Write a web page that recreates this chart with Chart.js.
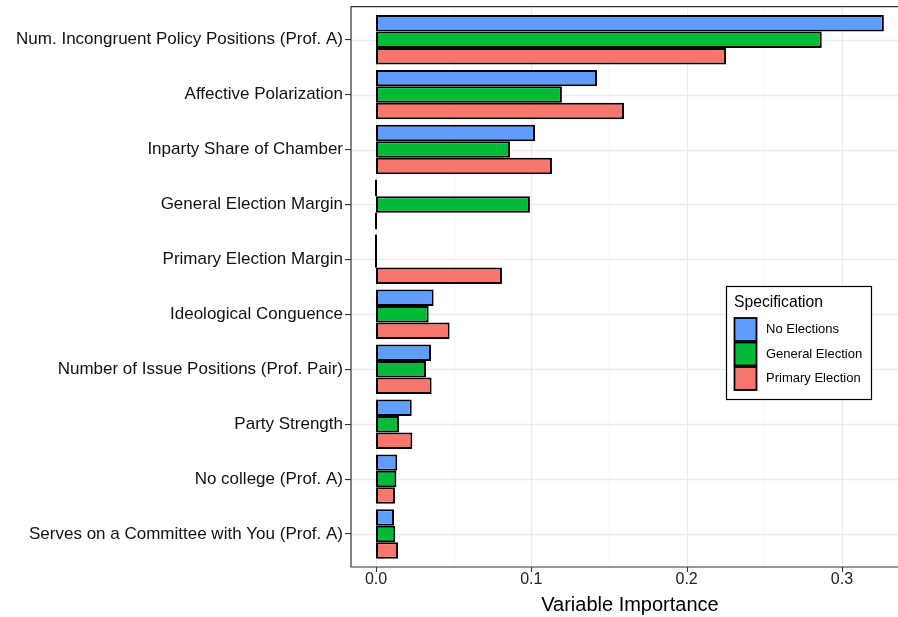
<!DOCTYPE html>
<html>
<head>
<meta charset="utf-8">
<title>Variable Importance by Specification</title>
<script src="https://cdn.jsdelivr.net/npm/chart.js@4.4.1/dist/chart.umd.min.js"></script>
<style>
  html, body { margin: 0; padding: 0; background: #ffffff; }
  #wrap { position: relative; width: 898px; height: 617px; }
</style>
</head>
<body>
<div id="wrap"><canvas id="chart"></canvas></div>
<script>
// Predictors, listed top to bottom
const categories = [
  "Num. Incongruent Policy Positions (Prof. A)",
  "Affective Polarization",
  "Inparty Share of Chamber",
  "General Election Margin",
  "Primary Election Margin",
  "Ideological Conguence",
  "Number of Issue Positions (Prof. Pair)",
  "Party Strength",
  "No college (Prof. A)",
  "Serves on a Committee with You (Prof. A)"
];

// Variable importance for each model specification
const noElections     = [0.327, 0.1423, 0.1024, 0,      0,      0.0371, 0.0354, 0.0230, 0.0137, 0.0116];
const generalElection = [0.287, 0.1197, 0.0863, 0.0991, 0,      0.0339, 0.0322, 0.0148, 0.0131, 0.0124];
const primaryElection = [0.2254, 0.1597, 0.1133, 0,     0.0811, 0.0474, 0.0358, 0.0234, 0.0122, 0.0142];

const seriesNames = ["No Elections", "General Election", "Primary Election"];
const legendTitle = "Specification";
const xAxisTitle = "Variable Importance";

// Axis ticks
const xMajorTicks = [0, 0.1, 0.2, 0.3];
const xMinorTicks = [0.05, 0.15, 0.25];

const fillColors = ["#619CFF", "#00BA38", "#F8766D"];
const FONT = "'Liberation Sans', Arial, Helvetica, sans-serif";
Chart.defaults.font.family = FONT;

// Panel extends 0.6 category units beyond the outer categories (0.1 beyond the band edges)
function panelBounds(chart) {
  const a = chart.chartArea;
  const unit = (a.bottom - a.top) / categories.length;
  return { left: a.left, right: a.right, top: a.top - 0.1 * unit, bottom: a.bottom + 0.1 * unit };
}

const panelPlugin = {
  id: "panel",
  beforeDatasetsDraw(chart) {
    const ctx = chart.ctx;
    const p = panelBounds(chart);
    const xs = chart.scales.x, ys = chart.scales.y;
    ctx.save();
    ctx.beginPath();
    ctx.rect(p.left, p.top, p.right - p.left, p.bottom - p.top);
    ctx.clip();
    // minor vertical grid
    ctx.strokeStyle = "#f3f3f3";
    ctx.lineWidth = 0.8;
    xMinorTicks.forEach(v => {
      const x = Math.round(xs.getPixelForValue(v)) + 0.5;
      ctx.beginPath(); ctx.moveTo(x, p.top); ctx.lineTo(x, p.bottom); ctx.stroke();
    });
    // major vertical grid
    ctx.strokeStyle = "#ebebeb";
    ctx.lineWidth = 1.3;
    xMajorTicks.forEach(v => {
      const x = Math.round(xs.getPixelForValue(v)) + 0.5;
      ctx.beginPath(); ctx.moveTo(x, p.top); ctx.lineTo(x, p.bottom); ctx.stroke();
    });
    // horizontal grid at category centres
    categories.forEach((c, i) => {
      const y = Math.round(ys.getPixelForValue(i)) + 0.5;
      ctx.beginPath(); ctx.moveTo(p.left, y); ctx.lineTo(p.right, y); ctx.stroke();
    });
    ctx.restore();
  },
  afterDatasetsDraw(chart) {
    const ctx = chart.ctx;
    ctx.save();
    // zero-valued bars collapse to an outline at the baseline
    ctx.strokeStyle = "#000";
    ctx.lineWidth = 2;
    chart.data.datasets.forEach((ds, di) => {
      const meta = chart.getDatasetMeta(di);
      meta.data.forEach((el, i) => {
        if (ds.data[i] === 0) {
          const props = el.getProps(["x", "y", "base", "height"], true);
          ctx.beginPath();
          ctx.moveTo(props.base, props.y - props.height / 2);
          ctx.lineTo(props.base, props.y + props.height / 2);
          ctx.stroke();
        }
      });
    });
    // panel border (left, top, bottom)
    const p = panelBounds(chart);
    ctx.strokeStyle = "#333";
    ctx.lineWidth = 1.2;
    ctx.beginPath();
    ctx.moveTo(p.right + 2, p.top);
    ctx.lineTo(p.left, p.top);
    ctx.lineTo(p.left, p.bottom);
    ctx.lineTo(p.right + 2, p.bottom);
    ctx.stroke();
    // x tick marks
    const xs = chart.scales.x;
    ctx.lineWidth = 1.1;
    xMajorTicks.forEach(v => {
      const x = Math.round(xs.getPixelForValue(v)) + 0.5;
      ctx.beginPath(); ctx.moveTo(x, p.bottom); ctx.lineTo(x, p.bottom + 5); ctx.stroke();
    });
    ctx.restore();
  },
  afterDraw(chart) {
    const ctx = chart.ctx;
    const xs = chart.scales.x;
    ctx.save();
    // axis title, centred on the full panel width
    ctx.fillStyle = "#000";
    ctx.font = "20px " + FONT;
    ctx.textAlign = "center";
    ctx.textBaseline = "alphabetic";
    ctx.fillText(xAxisTitle, xs.getPixelForValue(0.1635), 611);

    // legend box
    const lx = 726, ly = 286, lw = 145, lh = 113;
    ctx.fillStyle = "#fff";
    ctx.fillRect(lx, ly, lw, lh);
    ctx.strokeStyle = "#000";
    ctx.lineWidth = 1.2;
    ctx.strokeRect(lx + 0.5, ly + 0.5, lw, lh);
    ctx.fillStyle = "#000";
    ctx.textAlign = "left";
    ctx.font = "15.7px " + FONT;
    ctx.fillText(legendTitle, 734, 307);
    ctx.font = "13px " + FONT;
    chart.data.datasets.forEach((ds, i) => {
      const ky = 318 + i * 24.5;
      ctx.fillStyle = ds.backgroundColor;
      ctx.fillRect(734.5, ky, 22, 23);
      ctx.strokeStyle = "#000";
      ctx.lineWidth = 1.8;
      ctx.strokeRect(734.5, ky, 22, 23);
      ctx.fillStyle = "#000";
      ctx.textBaseline = "middle";
      ctx.fillText(ds.label, 766, ky + 11.5);
    });
    ctx.restore();
  }
};

const seriesValues = [noElections, generalElection, primaryElection];

new Chart(document.getElementById("chart"), {
  type: "bar",
  data: {
    labels: categories,
    datasets: seriesValues.map((vals, i) => ({
      label: seriesNames[i],
      data: vals,
      backgroundColor: fillColors[i],
      borderColor: "#000",
      borderWidth: 2,
      borderSkipped: false,
      categoryPercentage: 0.9,
      barPercentage: 1.0
    }))
  },
  options: {
    indexAxis: "y",
    responsive: true,
    maintainAspectRatio: false,
    animation: false,
    events: [],
    layout: { padding: { top: 11.5, right: 0, left: 0, bottom: 0 } },
    plugins: { legend: { display: false }, tooltip: { enabled: false } },
    scales: {
      x: {
        type: "linear",
        min: -0.0161,
        max: 0.3361,
        afterBuildTicks(scale) { scale.ticks = xMajorTicks.map(v => ({ value: v })); },
        afterFit(scale) { scale.height = 55.5; },
        grid: { display: false, drawTicks: false },
        border: { display: false },
        ticks: {
          autoSkip: false,
          maxRotation: 0,
          padding: 8,
          color: "#222",
          font: { size: 16 },
          callback: v => Number(v).toFixed(1)
        }
      },
      y: {
        type: "category",
        offset: true,
        afterFit(scale) { scale.width = 351; },
        grid: {
          offset: false,
          drawOnChartArea: false,
          drawTicks: true,
          tickLength: 6,
          color: "#333",
          lineWidth: 1.1
        },
        border: { display: false },
        ticks: {
          autoSkip: false,
          padding: 2,
          color: "#111",
          font: { size: 17 }
        }
      }
    }
  },
  plugins: [panelPlugin]
});
</script>
</body>
</html>
